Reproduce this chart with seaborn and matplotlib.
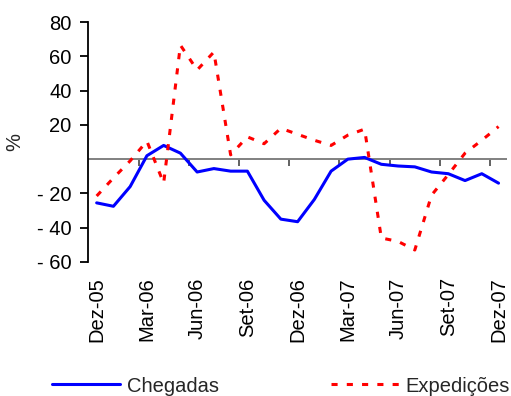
import numpy as np
import pandas as pd
import matplotlib
matplotlib.use("Agg")
import matplotlib.pyplot as plt
import seaborn as sns

# Monthly year-on-year change (%), Dez-05 .. Dez-07
months = ["Dez-05", "Jan-06", "Fev-06", "Mar-06", "Abr-06", "Mai-06", "Jun-06",
          "Jul-06", "Ago-06", "Set-06", "Out-06", "Nov-06", "Dez-06", "Jan-07",
          "Fev-07", "Mar-07", "Abr-07", "Mai-07", "Jun-07", "Jul-07", "Ago-07",
          "Set-07", "Out-07", "Nov-07", "Dez-07"]
chegadas = [-25.5, -27.5, -16, 2, 8, 3.5, -7.5, -5.5, -7, -7, -24, -35, -36.5,
            -23.5, -7, 0, 1, -3, -4, -4.5, -7.5, -8.5, -12.5, -8.5, -14]
expedicoes = [-21.5, -11, -1, 10.5, -14, 66.5, 52, 62.5, 2.5, 13, 9, 18, 14.5,
              11, 8, 14, 17.5, -46, -48, -53, -21, -9, 3.5, 11, 19]
y_ticks = [-60, -40, -20, 20, 40, 60, 80]

df = pd.DataFrame({"idx": np.arange(len(months)), "mes": months,
                   "Chegadas": chegadas, "Expedições": expedicoes})

FS = 14.5
sns.set_theme(style="ticks")
plt.rcParams["font.family"] = ["Liberation Sans", "DejaVu Sans"]
plt.rcParams["font.size"] = FS

fig = plt.figure(figsize=(5.11, 3.96), dpi=100)
ax = fig.add_axes([0.1728, 0.3384, 0.8192, 0.606])

sns.lineplot(data=df, x="idx", y="Chegadas", ax=ax, color="#0000FF",
             linewidth=2.2, label="Chegadas", legend=False)
sns.lineplot(data=df, x="idx", y="Expedições", ax=ax, color="#FF0000",
             linewidth=2.2, dashes=False, label="Expedições", legend=False)
red_line = ax.get_lines()[-1]
red_line.set_dashes((2, 3))

ax.set_xlim(-0.5, len(months) - 0.5)
ax.set_ylim(-60, 80)

# horizontal zero axis
ax.axhline(0, color="#808080", linewidth=1.4, zorder=1)

# category labels every three months, drawn below the plot area
ax.set_xticks(df["idx"][::3])
ax.set_xticklabels(df["mes"][::3], rotation=90, va="top", ha="center")
ax.tick_params(axis="x", length=0, pad=11, labelsize=FS, colors="black")

# tick marks between category groups on the zero line
zero_frac = (0 - (-60)) / (80 - (-60))
sec = ax.secondary_xaxis(zero_frac)
sec.set_xticks(np.arange(2.5, len(months), 3))
sec.tick_params(axis="x", length=5, width=1.3, direction="out",
                color="#555555", labelbottom=False, labeltop=False)
sec.spines["bottom"].set_visible(False)
sec.spines["top"].set_visible(False)

ax.set_yticks(y_ticks)
ax.set_yticklabels([f"- {abs(v)}" if v < 0 else f"{v}" for v in y_ticks])
ax.tick_params(axis="y", length=6, width=1.3, pad=6, labelsize=FS,
               colors="black")
ax.set_ylabel("%", fontsize=FS, labelpad=9)
ax.set_xlabel("")

for side in ["top", "right", "bottom"]:
    ax.spines[side].set_visible(False)
ax.spines["left"].set_color("black")
ax.spines["left"].set_linewidth(1.3)

handles, labels = ax.get_legend_handles_labels()
fig.legend(handles, labels, loc="center left",
           bbox_to_anchor=(52 / 511, 1 - 386 / 396), ncol=2, frameon=False,
           fontsize=FS, handlelength=3.4, handletextpad=0.3,
           columnspacing=5.6, borderpad=0, borderaxespad=0)

fig.savefig("out.png", dpi=100)
